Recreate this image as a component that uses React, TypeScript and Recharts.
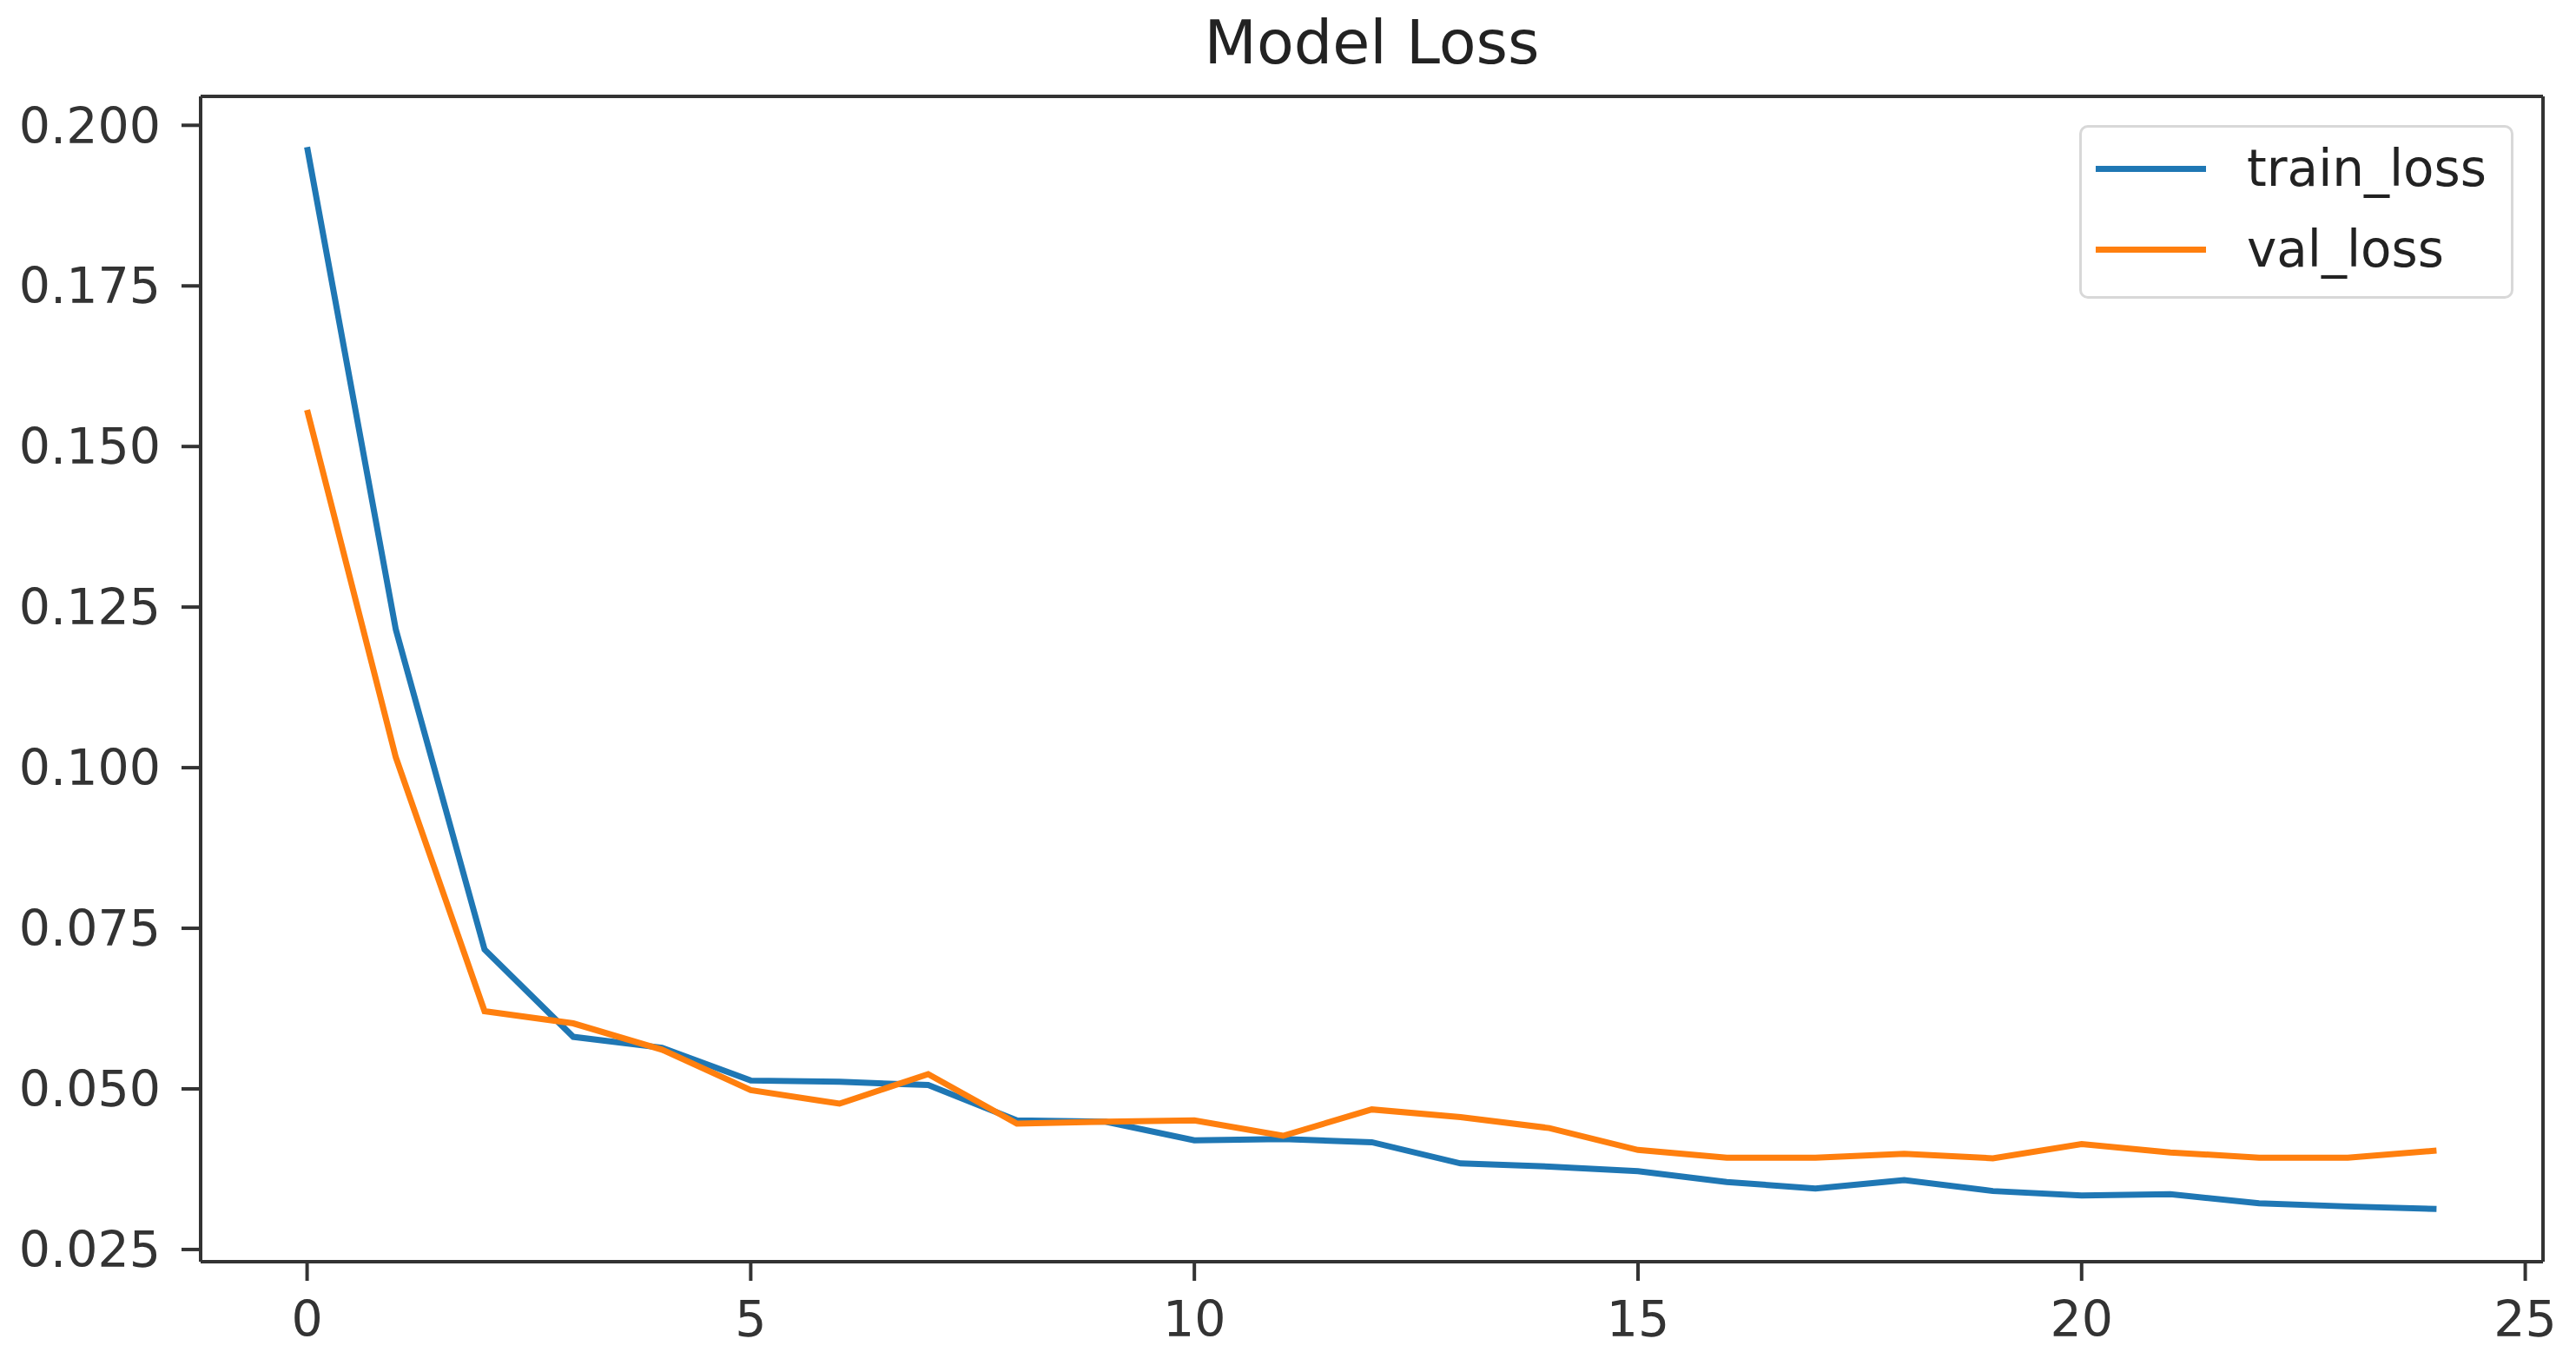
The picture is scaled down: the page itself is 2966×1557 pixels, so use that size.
import { LineChart, Line, XAxis, YAxis, ReferenceLine } from 'recharts'

const epochs = [0, 1, 2, 3, 4, 5, 6, 7, 8, 9, 10, 11, 12, 13, 14, 15, 16, 17, 18, 19, 20, 21, 22, 23, 24]
const trainLoss = [
  0.1966, 0.1215, 0.0717, 0.0581, 0.0564, 0.0513, 0.0511, 0.0506, 0.0451, 0.0449,
  0.0420, 0.0422, 0.0417, 0.0384, 0.0379, 0.0372, 0.0355, 0.0345, 0.0358, 0.0341,
  0.0334, 0.0336, 0.0322, 0.0317, 0.0313,
]
const valLoss = [
  0.1557, 0.1016, 0.0621, 0.0602, 0.0561, 0.0498, 0.0477, 0.0523, 0.0446, 0.0449,
  0.0451, 0.0427, 0.0468, 0.0456, 0.0439, 0.0405, 0.0393, 0.0393, 0.0399, 0.0392,
  0.0414, 0.0401, 0.0393, 0.0393, 0.0404,
]
const xTicks = [0, 5, 10, 15, 20, 25]
const yTicks = [0.025, 0.05, 0.075, 0.1, 0.125, 0.15, 0.175, 0.2]
const series = [
  { key: 'train_loss', color: '#1f77b4', values: trainLoss },
  { key: 'val_loss', color: '#ff7f0e', values: valLoss },
]

const data = epochs.map((epoch, i) => ({
  epoch,
  train_loss: trainLoss[i],
  val_loss: valLoss[i],
}))

const FONT = '"DejaVu Sans", sans-serif'
const INK = '#333'
const xDomain: [number, number] = [-1.2, 25.2]
const yDomain: [number, number] = [0.0231, 0.2045]
const tickStyle = { fontSize: 57, fill: INK, fontFamily: FONT }
const spine = { stroke: INK, strokeWidth: 4 }

export default function App() {
  return (
    <div style={{ position: 'absolute', left: 0, top: 0, width: 2966, height: 1557, background: '#fff' }}>
      <div
        style={{
          position: 'absolute', left: 231, width: 2697, top: 14, textAlign: 'center',
          fontFamily: FONT, fontSize: 70, lineHeight: 1, color: '#222',
        }}
      >
        Model Loss
      </div>
      <LineChart
        width={2966}
        height={1557}
        data={data}
        margin={{ top: 111, right: 38, left: 31, bottom: 4 }}
      >
        <XAxis
          dataKey="epoch"
          type="number"
          domain={xDomain}
          allowDataOverflow
          ticks={xTicks}
          interval={0}
          height={100}
          tickSize={22}
          tickMargin={24}
          tick={tickStyle}
          axisLine={spine}
          tickLine={spine}
        />
        <YAxis
          type="number"
          domain={yDomain}
          allowDataOverflow
          ticks={yTicks}
          interval={0}
          width={200}
          tickSize={22}
          tickMargin={24}
          tick={tickStyle}
          tickFormatter={(v: number) => v.toFixed(3)}
          axisLine={spine}
          tickLine={spine}
        />
        {/* top and right spines */}
        <ReferenceLine y={yDomain[1]} stroke={INK} strokeWidth={4} />
        <ReferenceLine x={xDomain[1]} stroke={INK} strokeWidth={4} />
        {series.map((s) => (
          <Line
            key={s.key}
            dataKey={s.key}
            type="linear"
            stroke={s.color}
            strokeWidth={7}
            dot={false}
            isAnimationActive={false}
          />
        ))}
      </LineChart>
      <div
        style={{
          position: 'absolute', left: 2394, top: 144, width: 500, height: 200, boxSizing: 'border-box',
          border: '3px solid #d8d8d8', borderRadius: 10, background: 'rgba(255,255,255,0.8)',
          fontFamily: FONT, fontSize: 58, color: '#222',
        }}
      >
        {series.map((s, i) => (
          <div key={s.key} style={{ position: 'absolute', left: 16, top: 12 + i * 93, height: 70, display: 'flex', alignItems: 'center' }}>
            <div style={{ width: 127, height: 7, background: s.color }} />
            <span style={{ marginLeft: 47, lineHeight: 1 }}>{s.key}</span>
          </div>
        ))}
      </div>
    </div>
  )
}
